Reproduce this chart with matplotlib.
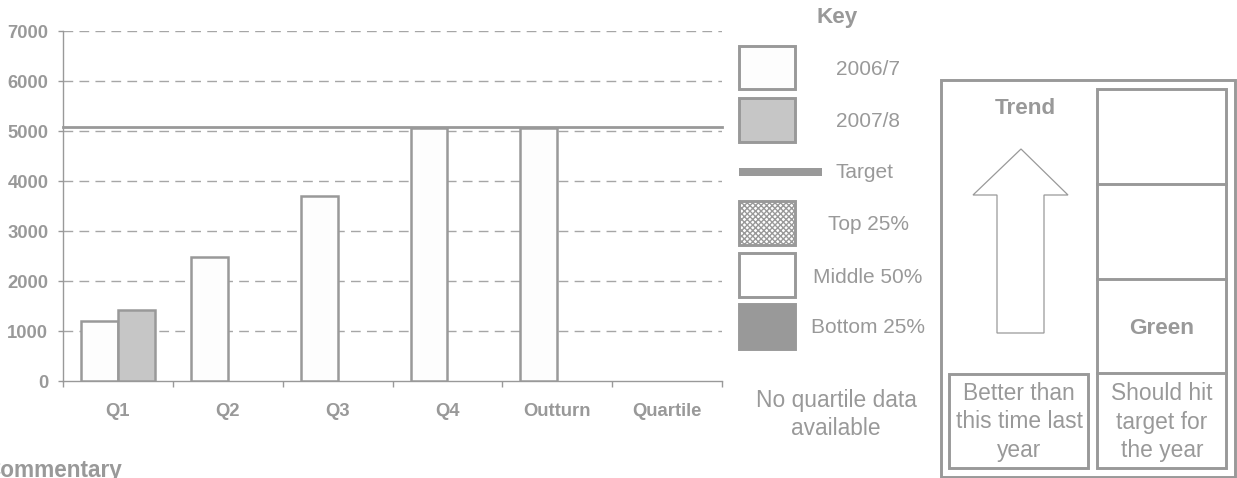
import numpy as np
import matplotlib
matplotlib.use('Agg')
from matplotlib import pyplot as plt
from matplotlib.patches import Rectangle, Polygon

# data
categories = ['Q1', 'Q2', 'Q3', 'Q4', 'Outturn', 'Quartile']
values_2006 = [1210, 2490, 3710, 5070, 5070, np.nan]
values_2007 = [1430, np.nan, np.nan, np.nan, np.nan, np.nan]
target = 5075
y_ticks = [0, 1000, 2000, 3000, 4000, 5000, 6000, 7000]

key_labels = ['2006/7', '2007/8', 'Target', 'Top 25%', 'Middle 50%', 'Bottom 25%']

GREY = '#999999'
W, H = 1237, 478

plt.rcParams['font.family'] = ['Liberation Sans', 'DejaVu Sans']
plt.rcParams['hatch.linewidth'] = 1.0

fig = plt.figure(figsize=(W / 100, H / 100), dpi=100, facecolor='w')

# main bar chart, placed in pixel units
ax = fig.add_axes([63 / W, (H - 381) / H, (722 - 63) / W, (381 - 31) / H])
x = np.arange(len(categories))
bw = 0.336
ax.bar(x - bw / 2, values_2006, bw, color='#fdfdfd', edgecolor=GREY, linewidth=1.8, zorder=3)
ax.bar(x + bw / 2, values_2007, bw, color='#c6c6c6', edgecolor=GREY, linewidth=1.8, zorder=3)
ax.axhline(target, color=GREY, linewidth=2.0, zorder=4, clip_on=False)

ax.set_xlim(-0.5, len(categories) - 0.5)
ax.set_ylim(0, 7000)
ax.set_yticks(y_ticks)
ax.set_yticklabels([str(v) for v in y_ticks], fontsize=13.3, fontweight='bold', color=GREY)
ax.set_xticks(x)
ax.set_xticklabels(categories, fontsize=13.3, fontweight='bold', color=GREY)
ax.set_xticks(np.arange(-0.5, len(categories)), minor=True)
ax.tick_params(axis='x', which='major', length=0, pad=16)
ax.tick_params(axis='x', which='minor', length=4.5, color=GREY, width=1)
ax.tick_params(axis='y', length=3.6, color=GREY, width=1, pad=7)

for v in y_ticks[1:]:
    ax.axhline(v, color='#a6a6a6', linewidth=1, linestyle=(0, (7, 4.5)), zorder=1)

for s in ['top', 'right']:
    ax.spines[s].set_visible(False)
for s in ['left', 'bottom']:
    ax.spines[s].set_color(GREY)
    ax.spines[s].set_linewidth(1)

# overlay in pixel coordinates for key and status panel
ov = fig.add_axes([0, 0, 1, 1])
ov.set_xlim(0, W)
ov.set_ylim(H, 0)
ov.axis('off')

ov.text(837, 23, 'Key', ha='center', va='baseline', fontsize=16.2, fontweight='bold', color=GREY)

box_lw = 2.1
ov.add_patch(Rectangle((739, 46), 56, 43, facecolor='#fdfdfd', edgecolor=GREY, lw=box_lw))
ov.add_patch(Rectangle((739, 98), 56, 44, facecolor='#c6c6c6', edgecolor=GREY, lw=box_lw))
ov.add_patch(Rectangle((739, 168), 83, 8, facecolor=GREY, edgecolor='none'))
ov.add_patch(Rectangle((739, 201), 56, 44, facecolor='white', edgecolor=GREY, lw=box_lw, hatch='xxxxxx'))
ov.add_patch(Rectangle((739, 253), 56, 44, facecolor='white', edgecolor=GREY, lw=box_lw))
ov.add_patch(Rectangle((739, 304), 56, 45, facecolor=GREY, edgecolor=GREY, lw=box_lw))

label_pos = [(868, 75), (868, 127), (865, 178), (868, 230), (868, 283), (868, 333)]
for lab, (lx, ly) in zip(key_labels, label_pos):
    ov.text(lx, ly, lab, ha='center', va='baseline', fontsize=15, color=GREY)

ov.text(836, 407, 'No quartile data', ha='center', va='baseline', fontsize=16.4, color=GREY)
ov.text(836, 435, 'available', ha='center', va='baseline', fontsize=16.4, color=GREY)

# status panel
ov.add_patch(Rectangle((941, 80), 294, 397, facecolor='white', edgecolor=GREY, lw=box_lw))
ov.add_patch(Rectangle((1097, 89), 129, 379, facecolor='white', edgecolor=GREY, lw=box_lw))
for yy in [184, 279, 373]:
    ov.plot([1097, 1226], [yy, yy], color=GREY, lw=box_lw)
ov.add_patch(Rectangle((949, 374), 139, 94, facecolor='white', edgecolor=GREY, lw=box_lw))

arrow = [(1021, 149), (1068, 195), (1044, 195), (1044, 333), (997, 333), (997, 195), (973, 195)]
ov.add_patch(Polygon(arrow, closed=True, facecolor='white', edgecolor=GREY, lw=0.9))

ov.text(1025, 114, 'Trend', ha='center', va='baseline', fontsize=16.2, fontweight='bold', color=GREY)
ov.text(1162, 334, 'Green', ha='center', va='baseline', fontsize=16.2, fontweight='bold', color=GREY)

for txt, ly in zip(['Better than', 'this time last', 'year'], [400, 428.5, 457]):
    ov.text(1019, ly, txt, ha='center', va='baseline', fontsize=16.4, color=GREY)
for txt, ly in zip(['Should hit', 'target for', 'the year'], [400, 428.5, 457]):
    ov.text(1162, ly, txt, ha='center', va='baseline', fontsize=16.4, color=GREY)

ov.text(-16, 477, 'Commentary', ha='left', va='baseline', fontsize=16.3, fontweight='bold', color=GREY)

fig.savefig('out.png', dpi=100)
plt.close()
